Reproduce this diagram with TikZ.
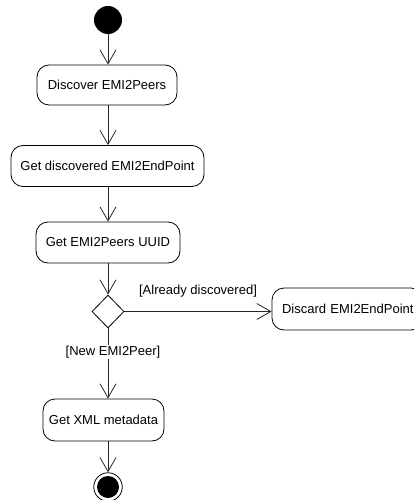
\documentclass[tikz,border=0pt]{standalone}
\usepackage{fontspec}
\setmainfont{Liberation Sans}
\usetikzlibrary{arrows.meta,shapes.geometric}
\begin{document}
\begin{tikzpicture}[x=1pt,y=-1pt,
  font=\fontsize{13}{15}\selectfont,
  action/.style={draw=black,line width=0.8pt,rounded corners=12pt,align=center,inner sep=0pt},
  flow/.style={draw=black!85,line width=0.8pt,-{Straight Barb[length=14pt,width=16pt,line width=0.8pt]}},
  guard/.style={inner sep=1pt,text=black,fill=white}]
\useasboundingbox (0,0) rectangle (414,500);
\begin{scope}
\clip (0,0) rectangle (414,500);
% initial and final states
\node[circle,fill=black,minimum size=28pt,inner sep=0pt] (start) at (108,20) {};
\node[circle,draw=black,line width=0.8pt,minimum size=28.5pt,inner sep=0pt] (stop) at (108,487) {};
\fill[black] (stop.center) circle (11pt);
% actions
\node[action,minimum width=140pt,minimum height=40pt] (discover) at (107,85) {Discover EMI2Peers};
\node[action,minimum width=193pt,minimum height=41pt] (getep) at (107.5,166) {Get discovered EMI2EndPoint};
\node[action,minimum width=144pt,minimum height=41pt] (uuid) at (108,242.5) {Get EMI2Peers UUID};
\node[diamond,draw=black,line width=0.8pt,minimum width=32pt,minimum height=33pt,inner sep=0pt] (choice) at (108,311.5) {};
\node[action,minimum width=151pt,minimum height=42pt,text width=151pt,align=left] (discard) at (347.5,309) {\hspace*{10pt}Discard EMI2EndPoint};
\node[action,minimum width=121pt,minimum height=42pt] (xml) at (103.5,420) {Get XML metadata};
% control flow
\draw[flow] (start) -- (start |- discover.north);
\draw[flow] (discover.south -| start) -- (start |- getep.north);
\draw[flow] (getep.south -| start) -- (start |- uuid.north);
\draw[flow] (uuid.south -| start) -- (choice.north);
\draw[flow] (choice.east) -- (discard.west |- choice.east);
\draw[flow] (choice.south) -- (start |- xml.north);
\draw[flow] (xml.south -| start) -- (stop.north);
% guards
\node[guard] (gyes) at (198,291) {[Already discovered]};
\node[guard] (gno) at (113,352) {[New EMI2Peer]};
\end{scope}
\end{tikzpicture}
\end{document}
